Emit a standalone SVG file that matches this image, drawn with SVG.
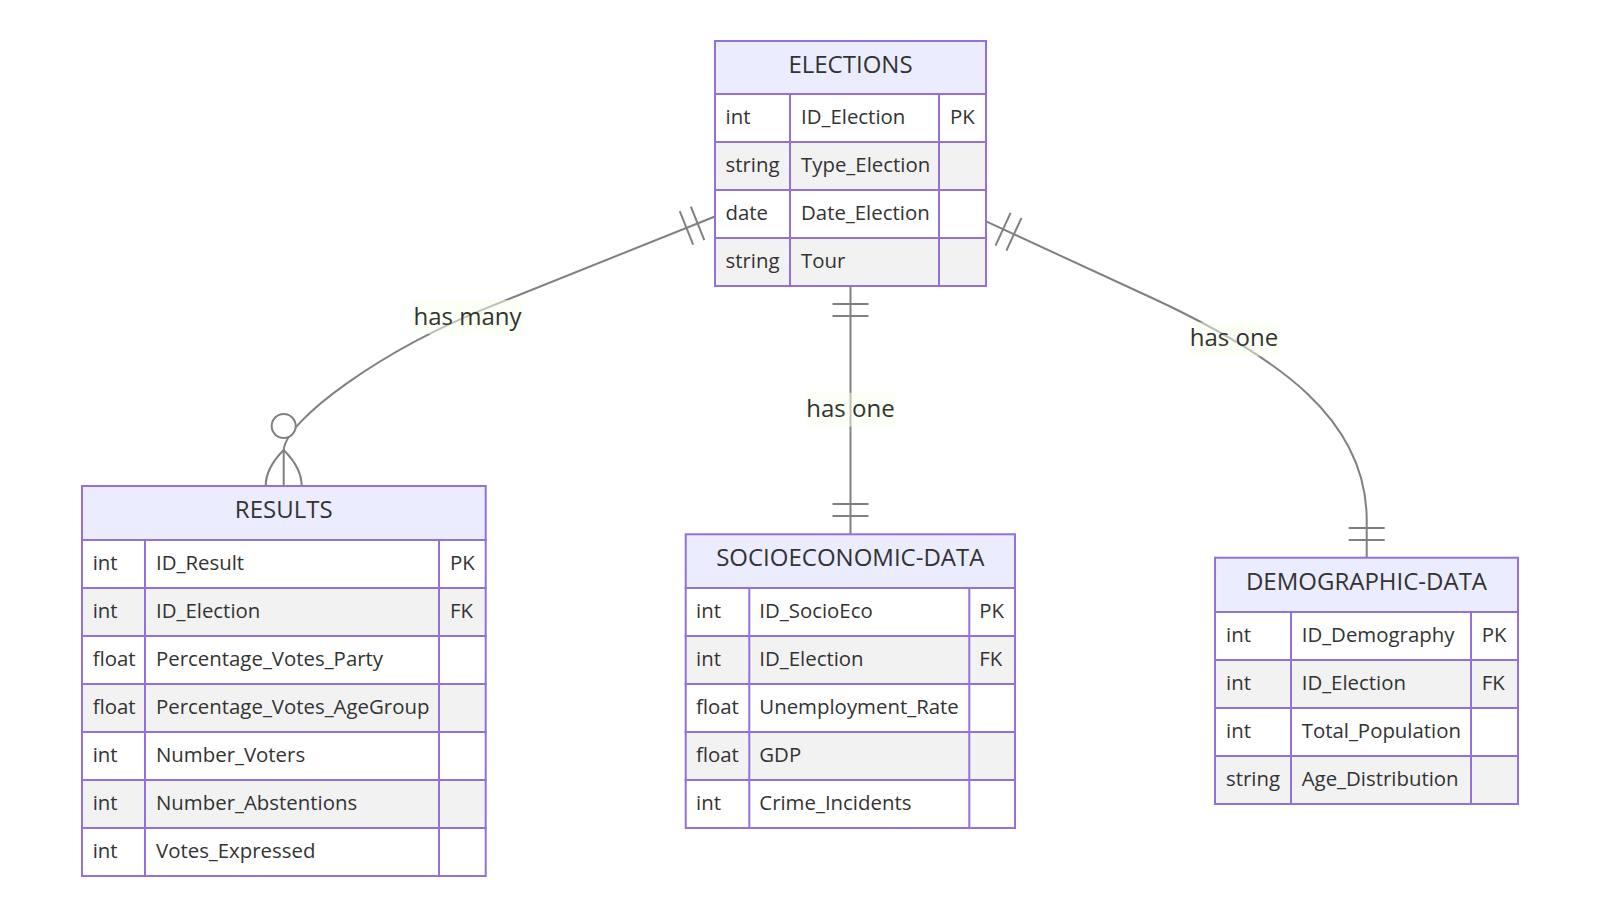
<svg xmlns="http://www.w3.org/2000/svg" width="1600" height="916" viewBox="0 0 1600 916">
<style>
  .bg { fill: #ffffff; }
  .edge { fill: none; stroke: #808080; stroke-width: 2; }
  .mk { fill: none; stroke: #808080; stroke-width: 2; }
  .mkc { fill: #ffffff; stroke: #808080; stroke-width: 2; }
  .lblbg { fill: hsl(80, 100%, 96.3%); fill-opacity: 0.5; }
  .lbl { font-family: "Open Sans", "Liberation Sans", sans-serif; font-size: 24px; fill: #333333; text-anchor: middle; }
  .hdr { fill: #ECECFF; stroke: #9370DB; stroke-width: 2; }
  .odd { fill: #ffffff; stroke: #9370DB; stroke-width: 2; }
  .even { fill: #f2f2f2; stroke: #9370DB; stroke-width: 2; }
  .col { stroke: #9370DB; stroke-width: 2; }
  .ttl { font-family: "Open Sans", "Liberation Sans", sans-serif; font-size: 24px; fill: #333333; text-anchor: middle; }
  .att { font-family: "Open Sans", "Liberation Sans", sans-serif; font-size: 20.4px; fill: #333333; }
</style>
<defs>
  <marker id="oneStart" markerUnits="userSpaceOnUse" markerWidth="40" markerHeight="40" refX="0" refY="18" orient="auto" overflow="visible">
    <path class="mk" d="M18,0 L18,36 M30,0 L30,36"/>
  </marker>
  <marker id="oneEnd" markerUnits="userSpaceOnUse" markerWidth="40" markerHeight="40" refX="36" refY="18" orient="auto" overflow="visible">
    <path class="mk" d="M6,0 L6,36 M18,0 L18,36"/>
  </marker>
  <marker id="zeroManyEnd" markerUnits="userSpaceOnUse" markerWidth="120" markerHeight="80" refX="72" refY="40" orient="auto" overflow="visible">
    <circle class="mkc" cx="12" cy="40" r="12"/>
    <path class="mk" d="M36,40 Q72,4 108,40 Q72,76 36,40"/>
  </marker>
</defs>
<rect class="bg" x="0" y="0" width="1600" height="916"/>

<g id="connectors">
  <path class="edge" d="M714.3,216.7 L490,306.6 C380,350.7 286,420 283.7,450 L283.7,486" marker-start="url(#oneStart)" marker-end="url(#zeroManyEnd)"/>
  <path class="edge" d="M850.5,286 L850.5,534" marker-start="url(#oneStart)" marker-end="url(#oneEnd)"/>
  <path class="edge" d="M986.7,221.7 L1150,297 C1280,357 1366.7,420 1366.7,520 L1366.7,558" marker-start="url(#oneStart)" marker-end="url(#oneEnd)"/>
  <g id="edge-labels">
    <rect class="lblbg" x="412.7" y="300" width="109.6" height="34"/>
    <text class="lbl" x="467.5" y="324.5">has many</text>
    <rect class="lblbg" x="806" y="392.7" width="89" height="34"/>
    <text class="lbl" x="850.5" y="417">has one</text>
    <rect class="lblbg" x="1190" y="322.3" width="88.3" height="34"/>
    <text class="lbl" x="1234" y="346">has one</text>
  </g>
</g>

<g id="ELECTIONS">
  <rect class="hdr" x="715" y="41" width="271" height="53"/>
  <text class="ttl" x="850.5" y="73">ELECTIONS</text>
  <rect class="odd" x="715" y="94" width="271" height="48"/>
  <rect class="even" x="715" y="142" width="271" height="48"/>
  <rect class="odd" x="715" y="190" width="271" height="48"/>
  <rect class="even" x="715" y="238" width="271" height="48"/>
  <line class="col" x1="790" y1="94" x2="790" y2="286"/>
  <line class="col" x1="939" y1="94" x2="939" y2="286"/>
  <text class="att" x="725.5" y="123.5">int</text><text class="att" x="801" y="123.5">ID_Election</text><text class="att" x="950" y="123.5">PK</text>
  <text class="att" x="725.5" y="171.5">string</text><text class="att" x="801" y="171.5">Type_Election</text>
  <text class="att" x="725.5" y="219.5">date</text><text class="att" x="801" y="219.5">Date_Election</text>
  <text class="att" x="725.5" y="267.5">string</text><text class="att" x="801" y="267.5">Tour</text>
</g>

<g id="RESULTS">
  <rect class="hdr" x="82" y="486" width="403.7" height="54"/>
  <text class="ttl" x="283.7" y="518">RESULTS</text>
  <rect class="odd" x="82" y="540" width="403.7" height="48"/>
  <rect class="even" x="82" y="588" width="403.7" height="48"/>
  <rect class="odd" x="82" y="636" width="403.7" height="48"/>
  <rect class="even" x="82" y="684" width="403.7" height="48"/>
  <rect class="odd" x="82" y="732" width="403.7" height="48"/>
  <rect class="even" x="82" y="780" width="403.7" height="48"/>
  <rect class="odd" x="82" y="828" width="403.7" height="48"/>
  <line class="col" x1="145" y1="540" x2="145" y2="876"/>
  <line class="col" x1="439" y1="540" x2="439" y2="876"/>
  <text class="att" x="92.7" y="569.5">int</text><text class="att" x="156" y="569.5">ID_Result</text><text class="att" x="450" y="569.5">PK</text>
  <text class="att" x="92.7" y="617.5">int</text><text class="att" x="156" y="617.5">ID_Election</text><text class="att" x="450" y="617.5">FK</text>
  <text class="att" x="92.7" y="665.5">float</text><text class="att" x="156" y="665.5">Percentage_Votes_Party</text>
  <text class="att" x="92.7" y="713.5">float</text><text class="att" x="156" y="713.5">Percentage_Votes_AgeGroup</text>
  <text class="att" x="92.7" y="761.5">int</text><text class="att" x="156" y="761.5">Number_Voters</text>
  <text class="att" x="92.7" y="809.5">int</text><text class="att" x="156" y="809.5">Number_Abstentions</text>
  <text class="att" x="92.7" y="857.5">int</text><text class="att" x="156" y="857.5">Votes_Expressed</text>
</g>

<g id="SOCIOECONOMIC-DATA">
  <rect class="hdr" x="685.7" y="534.3" width="329.3" height="53.7"/>
  <text class="ttl" x="850.3" y="566.3">SOCIOECONOMIC-DATA</text>
  <rect class="odd" x="685.7" y="588" width="329.3" height="48"/>
  <rect class="even" x="685.7" y="636" width="329.3" height="48"/>
  <rect class="odd" x="685.7" y="684" width="329.3" height="48"/>
  <rect class="even" x="685.7" y="732" width="329.3" height="48"/>
  <rect class="odd" x="685.7" y="780" width="329.3" height="48"/>
  <line class="col" x1="749.3" y1="588" x2="749.3" y2="828"/>
  <line class="col" x1="969.3" y1="588" x2="969.3" y2="828"/>
  <text class="att" x="696" y="617.5">int</text><text class="att" x="759.3" y="617.5">ID_SocioEco</text><text class="att" x="979.3" y="617.5">PK</text>
  <text class="att" x="696" y="665.5">int</text><text class="att" x="759.3" y="665.5">ID_Election</text><text class="att" x="979.3" y="665.5">FK</text>
  <text class="att" x="696" y="713.5">float</text><text class="att" x="759.3" y="713.5">Unemployment_Rate</text>
  <text class="att" x="696" y="761.5">float</text><text class="att" x="759.3" y="761.5">GDP</text>
  <text class="att" x="696" y="809.5">int</text><text class="att" x="759.3" y="809.5">Crime_Incidents</text>
</g>

<g id="DEMOGRAPHIC-DATA">
  <rect class="hdr" x="1215" y="557.7" width="303" height="54.3"/>
  <text class="ttl" x="1366.5" y="589.8">DEMOGRAPHIC-DATA</text>
  <rect class="odd" x="1215" y="612" width="303" height="48"/>
  <rect class="even" x="1215" y="660" width="303" height="48"/>
  <rect class="odd" x="1215" y="708" width="303" height="48"/>
  <rect class="even" x="1215" y="756" width="303" height="48"/>
  <line class="col" x1="1291" y1="612" x2="1291" y2="804"/>
  <line class="col" x1="1471" y1="612" x2="1471" y2="804"/>
  <text class="att" x="1226" y="641.5">int</text><text class="att" x="1301.7" y="641.5">ID_Demography</text><text class="att" x="1481.7" y="641.5">PK</text>
  <text class="att" x="1226" y="689.5">int</text><text class="att" x="1301.7" y="689.5">ID_Election</text><text class="att" x="1481.7" y="689.5">FK</text>
  <text class="att" x="1226" y="737.5">int</text><text class="att" x="1301.7" y="737.5">Total_Population</text>
  <text class="att" x="1226" y="785.5">string</text><text class="att" x="1301.7" y="785.5">Age_Distribution</text>
</g>
</svg>
